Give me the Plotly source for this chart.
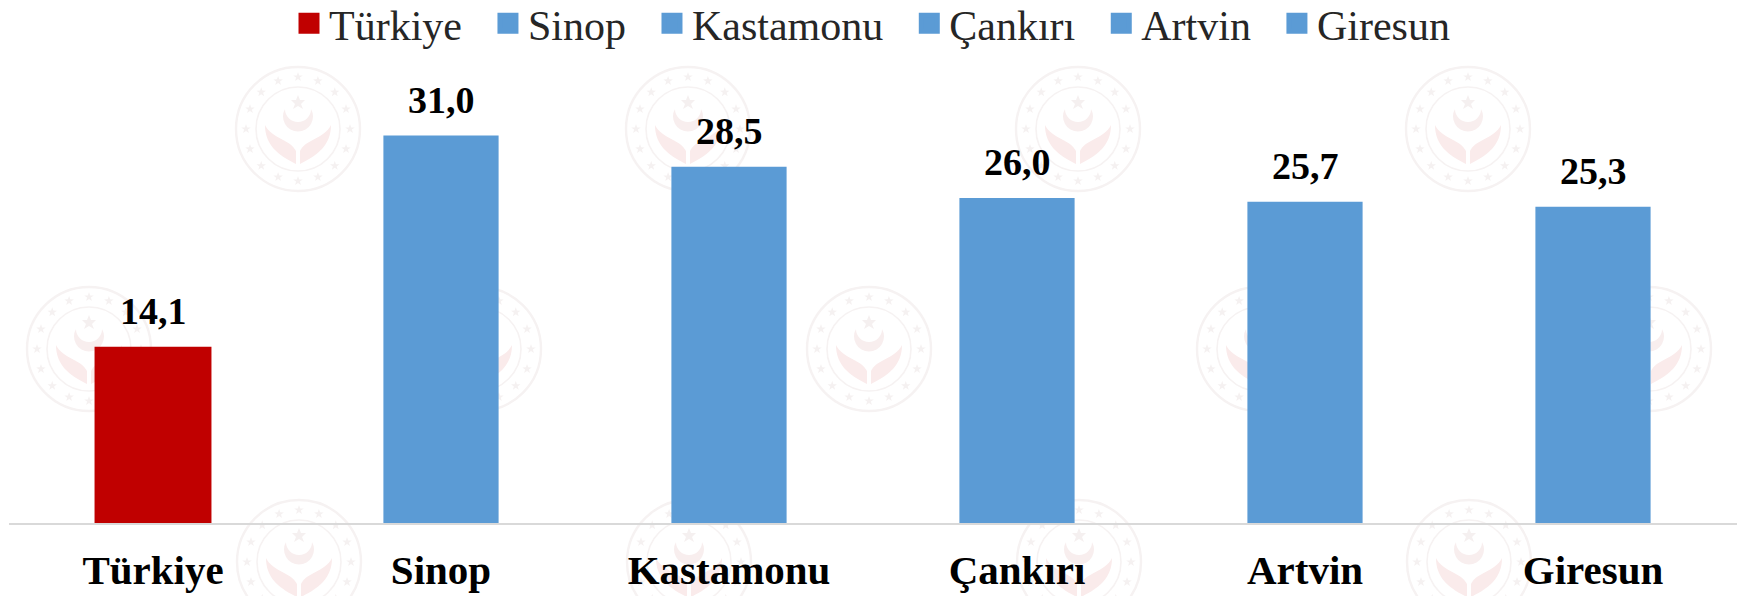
import base64
import math
import plotly.graph_objects as go

categories = ["Türkiye", "Sinop", "Kastamonu", "Çankırı", "Artvin", "Giresun"]
values = [14.1, 31.0, 28.5, 26.0, 25.7, 25.3]
colors = ["#C00000", "#5B9BD5", "#5B9BD5", "#5B9BD5", "#5B9BD5", "#5B9BD5"]

W, H = 1745, 596
L, R, T, B = 9, 8, 8, 73
FONT = "Liberation Serif"
LEGEND_GAP = "\u00a0\u00a0"


def emblem_svg():
    stars = ""
    for i in range(16):
        a = 2 * math.pi * i / 16 - math.pi / 2
        cx, cy = 70 + 52 * math.cos(a), 70 + 52 * math.sin(a)
        pts = []
        for k in range(10):
            r = 5 if k % 2 == 0 else 2
            b = math.pi * k / 5 - math.pi / 2
            pts.append(f"{cx + r * math.cos(b):.1f},{cy + r * math.sin(b):.1f}")
        stars += f'<polygon points="{" ".join(pts)}" fill="#F5F1F1"/>'
    return (
        '<svg xmlns="http://www.w3.org/2000/svg" width="140" height="140" viewBox="0 0 140 140">'
        '<circle cx="70" cy="70" r="62" fill="none" stroke="#F6F2F2" stroke-width="2.4"/>'
        '<circle cx="70" cy="70" r="42" fill="none" stroke="#F6F2F2" stroke-width="1.6"/>'
        + stars +
        '<path d="M57 50 A15 15 0 1 0 83 50 A12.5 12.5 0 0 1 57 50 Z" fill="#F8EEEE"/>'
        '<polygon points="70,36 72,41 77,41 73,45 75,50 70,47 65,50 67,45 63,41 68,41" fill="#F5F0F0"/>'
        '<path d="M37 66 C37 86 50 96 68 105 L68 92 C62 80 44 80 37 66 Z" fill="#FAEBEB"/>'
        '<path d="M103 66 C103 86 90 96 72 105 L72 92 C78 80 96 80 103 66 Z" fill="#FAEBEB"/>'
        "</svg>"
    )


EMBLEM = "data:image/svg+xml;base64," + base64.b64encode(emblem_svg().encode()).decode()
mark_centres = (
    [(298 + 390 * i, 129) for i in range(4)]
    + [(89 + 390 * i, 349) for i in range(5)]
    + [(299 + 390 * i, 562) for i in range(4)]
)
plot_w, plot_h = W - L - R, H - T - B
images = [
    dict(source=EMBLEM, xref="paper", yref="paper", xanchor="center", yanchor="middle",
         x=(cx - L) / plot_w, y=1 - (cy - T) / plot_h, sizex=140 / plot_w, sizey=140 / plot_h,
         sizing="stretch", layer="below")
    for cx, cy in mark_centres
]

fig = go.Figure()
for c, v, col in zip(categories, values, colors):
    fig.add_bar(x=[c], y=[v], marker=dict(color=col, line=dict(width=0)),
                width=0.406 if c == "Türkiye" else 0.4, showlegend=False)
    fig.add_scatter(x=[None], y=[None], mode="markers", name=c + LEGEND_GAP,
                    marker=dict(symbol="square", size=16, color=col, line=dict(color=col, width=5)))
    fig.add_annotation(x=c, y=v, text=f"<b>{v:.1f}</b>".replace(".", ","), showarrow=False,
                       yanchor="bottom", yshift=13, font=dict(family=FONT, size=38, color="#000"))

fig.update_layout(
    width=W, height=H, margin=dict(l=L, r=R, t=T, b=B, autoexpand=False), paper_bgcolor="white",
    plot_bgcolor="rgba(0,0,0,0)",
    barmode="overlay", images=images,
    legend=dict(orientation="h", x=0.5055, xanchor="center", y=1.036, yanchor="top",
                font=dict(family=FONT, size=42, color="#262626"), itemwidth=30),
    xaxis=dict(type="category", categoryorder="array", categoryarray=categories, showgrid=False,
               showline=True, linecolor="#D9D9D9", linewidth=2, ticks="", ticklabelstandoff=10,
               tickfont=dict(family=FONT, size=41, color="#000", weight="bold")),
    yaxis=dict(visible=False, range=[0, 41.2]),
)
fig.write_html("out.html", post_script="document.body.style.margin='0';",
               config={"displayModeBar": False})
